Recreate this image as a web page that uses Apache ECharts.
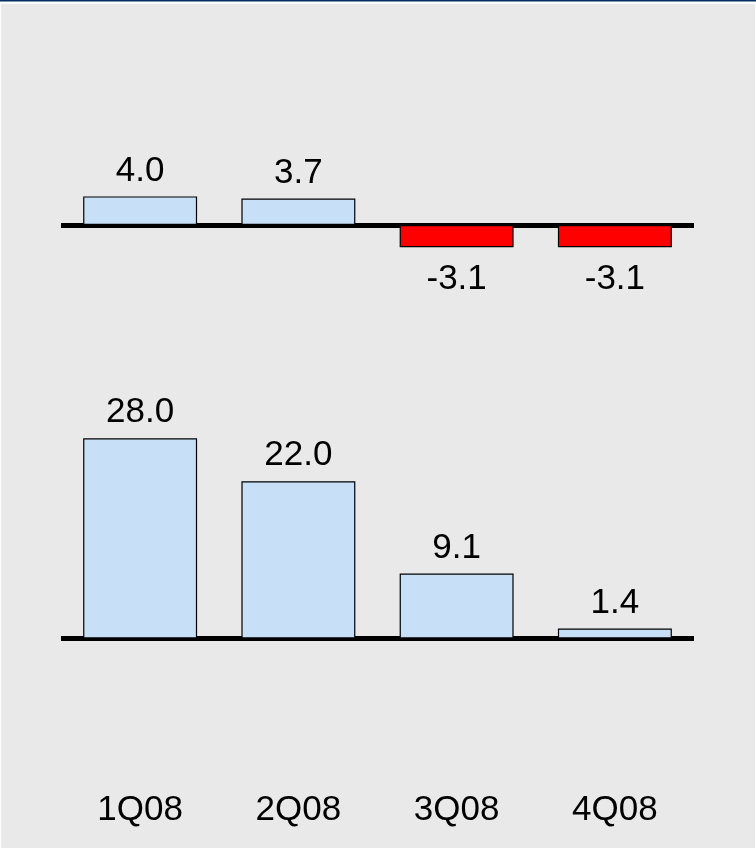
<!DOCTYPE html>
<html>
<head>
<meta charset="utf-8">
<script src="https://cdn.jsdelivr.net/npm/echarts@6/dist/echarts.min.js"></script>
<style>
  html, body { margin: 0; padding: 0; background: #ffffff; }
  #chart { width: 756px; height: 849px; }
</style>
</head>
<body>
<div id="chart"></div>
<script>
// Quarter labels shared by both panels
const quarters = ['1Q08', '2Q08', '3Q08', '4Q08'];
// Upper panel values (can be negative)
const upperValues = [4.0, 3.7, -3.1, -3.1];
// Lower panel values
const lowerValues = [28.0, 22.0, 9.1, 1.4];

const FONT = 'Liberation Sans, Arial, sans-serif';
const POS_FILL = '#c7e0f8';
const NEG_FILL = '#ff0000';

function barData(values) {
  return values.map(v => ({
    value: v,
    itemStyle: { color: v < 0 ? NEG_FILL : POS_FILL },
    label: v < 0 ? { position: 'bottom', distance: 15 } : { position: 'top', distance: 8 }
  }));
}

const chart = echarts.init(document.getElementById('chart'), null, { renderer: 'canvas' });

chart.setOption({
  backgroundColor: '#ffffff',
  animation: false,
  graphic: [
    { type: 'rect', shape: { x: 1, y: 4, width: 754, height: 844 }, style: { fill: '#e9e9e9' }, silent: true, z: -10 },
    { type: 'rect', shape: { x: 0, y: 0, width: 756, height: 1.5 }, style: { fill: '#00305f' }, silent: true, z: -10 }
  ],
  grid: [
    { left: 61, right: 62, top: 189.25, height: 71.5 },
    { left: 61, right: 62, top: 424, height: 214.5 }
  ],
  xAxis: [
    {
      type: 'category', gridIndex: 0, data: quarters,
      axisLine: { onZero: true, lineStyle: { color: '#000', width: 5, cap: 'butt' } },
      axisTick: { show: false }, axisLabel: { show: false }, splitLine: { show: false }
    },
    {
      type: 'category', gridIndex: 1, data: quarters,
      axisLine: { lineStyle: { color: '#000', width: 5, cap: 'butt' } },
      axisTick: { show: false },
      axisLabel: { show: true, margin: 154, fontSize: 35, fontFamily: FONT, color: '#000' },
      splitLine: { show: false }
    }
  ],
  yAxis: [
    { type: 'value', gridIndex: 0, min: -5, max: 5, show: false, splitLine: { show: false } },
    { type: 'value', gridIndex: 1, min: 0, max: 30, show: false, splitLine: { show: false } }
  ],
  series: [
    {
      type: 'bar', xAxisIndex: 0, yAxisIndex: 0,
      data: barData(upperValues),
      barWidth: '72%',
      itemStyle: { borderColor: '#000', borderWidth: 1.2 },
      label: {
        show: true, fontSize: 35, fontFamily: FONT, color: '#000',
        formatter: p => p.value.toFixed(1)
      },
      z: 1
    },
    {
      type: 'bar', xAxisIndex: 1, yAxisIndex: 1,
      data: barData(lowerValues),
      barWidth: '72%',
      itemStyle: { borderColor: '#000', borderWidth: 1.2 },
      label: {
        show: true, fontSize: 35, fontFamily: FONT, color: '#000',
        formatter: p => p.value.toFixed(1)
      },
      z: 1
    }
  ]
});
</script>
</body>
</html>
